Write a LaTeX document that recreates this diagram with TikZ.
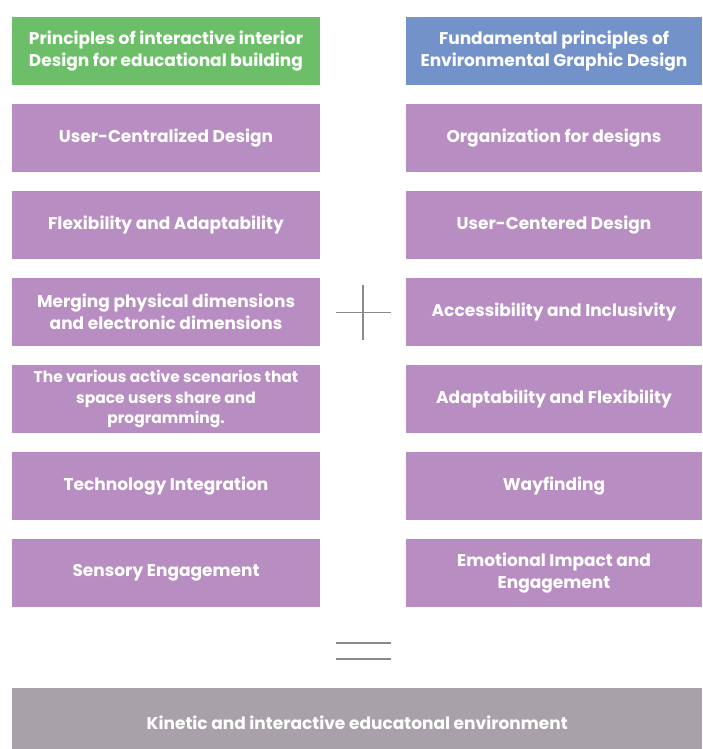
\documentclass[tikz,border=0pt]{standalone}
\usepackage{fontspec}
\setmainfont{Poppins}
\usepackage{tikz}
\usetikzlibrary{calc,positioning}
\definecolor{headgreen}{HTML}{6CBF68}
\definecolor{headblue}{HTML}{7292C9}
\definecolor{boxpurple}{HTML}{B88EC2}
\definecolor{boxgray}{HTML}{A8A1A9}
\definecolor{signgray}{HTML}{8A8A8A}

\begin{document}
\begin{tikzpicture}[x=1pt,y=-1pt,node distance=18.5pt,
  cell/.style={fill=boxpurple,text=white,font=\bfseries\fontsize{17}{22}\selectfont,
    align=center,minimum height=68pt,inner sep=0pt},
  leftcell/.style={cell,minimum width=308pt},
  rightcell/.style={cell,minimum width=296pt},
  sign/.style={draw=signgray,line width=1.4pt}]
  \useasboundingbox (0,0) rectangle (702,749);
  % left column
  \node[leftcell,fill=headgreen] (lhead) at (166,51.5) {Principles of interactive interior\\Design for educational building};
  \node[leftcell,below=of lhead] (l1) {User-Centralized Design};
  \node[leftcell,below=of l1] (l2) {Flexibility and Adaptability};
  \node[leftcell,below=of l2] (l3) {Merging physical dimensions\\and electronic dimensions};
  \node[leftcell,below=of l3,font=\bfseries\fontsize{15.5}{20.5}\selectfont] (l4) {The various active scenarios that\\space users share and\\programming.};
  \node[leftcell,below=of l4] (l5) {Technology Integration};
  \node[leftcell,below=of l5] (l6) {Sensory Engagement};
  % right column
  \node[rightcell,fill=headblue] (rhead) at (554,51.5) {Fundamental principles of\\Environmental Graphic Design};
  \node[rightcell,below=of rhead] (r1) {Organization for designs};
  \node[rightcell,below=of r1] (r2) {User-Centered Design};
  \node[rightcell,below=of r2] (r3) {Accessibility and Inclusivity};
  \node[rightcell,below=of r3] (r4) {Adaptability and Flexibility};
  \node[rightcell,below=of r4] (r5) {Wayfinding};
  \node[rightcell,below=of r5] (r6) {Emotional Impact and\\Engagement};
  % plus and equals
  \coordinate (plus) at ($(l3.east)!0.5!(r3.west)$);
  \draw[sign] ([xshift=-27.5pt]plus) -- ([xshift=27.5pt]plus);
  \draw[sign] ([yshift=27.5pt]plus) -- ([yshift=-27.5pt]plus);
  \coordinate (equal) at (363,651);
  \draw[sign] ([xshift=-27.5pt,yshift=8pt]equal) -- ([xshift=27.5pt,yshift=8pt]equal);
  \draw[sign] ([xshift=-27.5pt,yshift=-8pt]equal) -- ([xshift=27.5pt,yshift=-8pt]equal);
  % result
  \node[cell,fill=boxgray,minimum width=690pt,minimum height=70pt,anchor=north west] (result) at (12,688) {Kinetic and interactive educatonal environment};
\end{tikzpicture}
\end{document}
